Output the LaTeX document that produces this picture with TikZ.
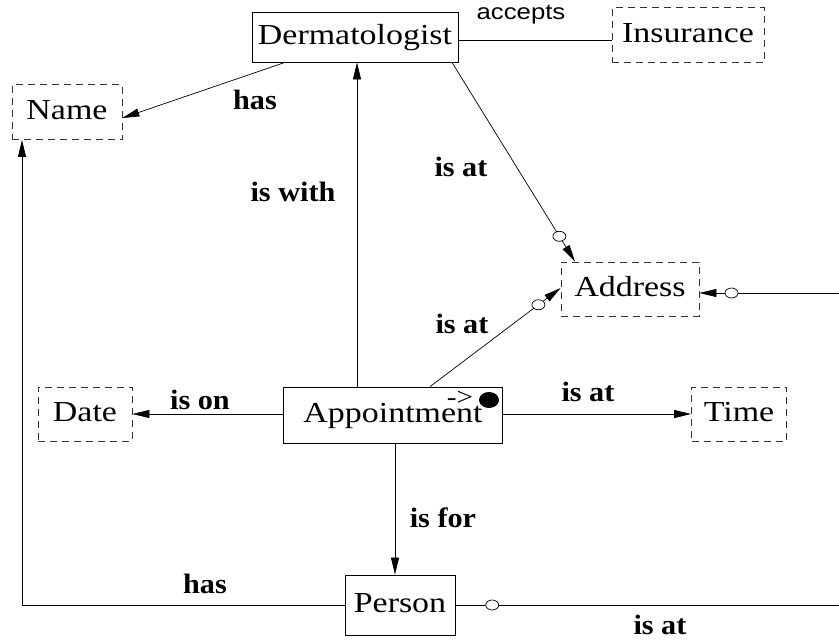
\documentclass[tikz,border=0pt]{standalone}
\usepackage{fontspec}
\setmainfont{Liberation Serif}[FakeStretch=1.17]
\setsansfont{Liberation Sans}[FakeStretch=1.17]
\newfontfamily\lblfont{Liberation Serif}[FakeStretch=1.08]
\usetikzlibrary{arrows.meta,shapes.geometric}
\begin{document}
\begin{tikzpicture}[x=1pt,y=-1pt,
  every node/.style={inner sep=0pt},
  entity/.style={draw, line width=0.8pt, minimum width=#1, text height=20pt, text depth=6pt,
    font=\fontsize{29}{30}\selectfont},
  value/.style={entity=#1, dash pattern=on 7pt off 5pt, draw=black!80},
  lbl/.style={font=\lblfont\bfseries\fontsize{28}{30}\selectfont},
  conn/.style={line width=0.7pt},
  arr/.style={conn, -{Triangle[length=17pt,width=8pt]}},
  ring/.style={ellipse, draw, fill=white, line width=0.7pt, minimum width=13pt, minimum height=10pt, inner sep=0pt}]
\useasboundingbox (0,0) rectangle (839,641);

% entities and value sets
\node[entity=206pt, minimum height=50pt] (derm) at (355,37) {Dermatologist};
\node[value=152pt, minimum height=55pt] (ins) at (688,35) {Insurance};
\node[value=110pt, minimum height=55pt] (name) at (67,112) {Name};
\node[value=138pt, minimum height=54pt] (addr) at (630,289) {Address};
\node[entity=219pt, minimum height=56pt] (appt) at (393,415) {Appointment};
\node[value=94pt, minimum height=54pt] (date) at (85,414) {Date};
\node[value=95pt, minimum height=54pt] (time) at (739,414) {Time};
\node[entity=110pt, minimum height=60pt] (person) at (400,605) {Person};

% key marker inside Appointment
\node[font=\fontsize{25}{25}\selectfont] (key) at (460,398) {->};
\fill (489,400) ellipse [x radius=10pt, y radius=8pt];

% free ends at the right margin and the left bend
\coordinate (rA) at (839,293);
\coordinate (rP) at (839,605);
\coordinate (cL) at (22,605);

% connectors
\draw[conn] ([yshift=-3pt]derm.east) -- ([yshift=-3pt]derm.east -| ins.west);
\node[font=\sffamily\fontsize{22}{24}\selectfont] (lacc) at (521,15) {accepts};

\draw[arr] ([xshift=-70pt]derm.south) -- ([yshift=-6pt]name.east);
\node[lbl] (lhas1) at (255,100) {has};

\draw[arr] ([xshift=-36pt]appt.north) -- ([xshift=-36pt]appt.north |- derm.south);
\node[lbl] (lwith) at (293,192) {is with};

\draw[arr] ([xshift=97pt]derm.south) -- node[ring, pos=0.873] (r1) {} ([xshift=-55pt]addr.north);
\node[lbl] (lat1) at (461,167) {is at};

\draw[arr] ([xshift=37pt]appt.north) -- node[ring, pos=0.83] (r2) {} ([yshift=1pt]addr.west);
\node[lbl] (lat2) at (462,324) {is at};

\draw[arr] (rA) -- node[ring, pos=0.77] (r3) {} (addr.east |- rA);

\draw[arr] (appt.west |- date.east) -- (date.east);
\node[lbl] (lon) at (200,400) {is on};

\draw[arr] (appt.east |- time.west) -- (time.west);
\node[lbl] (lat3) at (588,392) {is at};

\draw[arr] ([xshift=2pt]appt.south) -- ([xshift=2pt]appt.south |- person.north);
\node[lbl] (lfor) at (443,518) {is for};

\draw[arr] (person.west) -- (cL) -- (cL |- name.south);
\node[lbl] (lhas2) at (205,584) {has};

\draw[conn] (person.east) -- node[ring, pos=0.096] (r4) {} (rP);
\node[lbl] (lat4) at (660,625) {is at};
\end{tikzpicture}
\end{document}
